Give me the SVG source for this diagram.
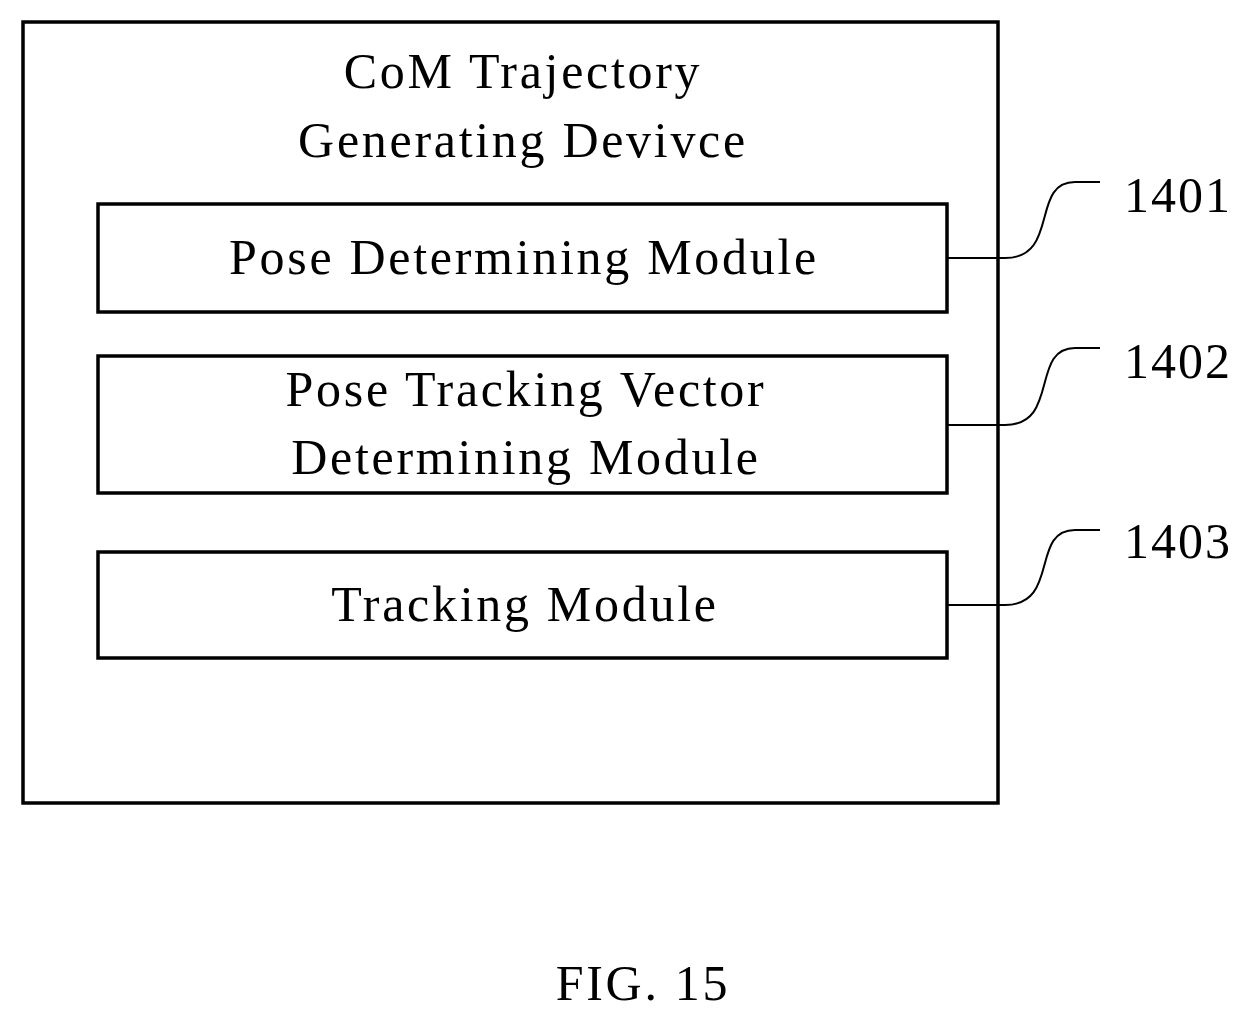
<svg xmlns="http://www.w3.org/2000/svg" width="1253" height="1023" viewBox="0 0 1253 1023">
<style>
.b{fill:none;stroke:#000;stroke-width:3.5}
.l{fill:none;stroke:#000;stroke-width:2}
text{font-family:"Liberation Serif",serif;font-size:50px;letter-spacing:2.7px;fill:#000;text-anchor:middle}
.n{text-anchor:start;letter-spacing:2px}
</style>
<rect width="1253" height="1023" fill="#fff"/>
<g id="device"><rect class="b" x="23" y="22" width="975" height="781"/>
<text x="523" y="88">CoM Trajectory</text><text x="523" y="157">Generating Devivce</text></g>
<g id="m1401"><rect class="b" x="98" y="204" width="849" height="108"/><text x="524" y="274">Pose Determining Module</text></g>
<g id="m1402"><rect class="b" x="98" y="356" width="849" height="137"/><text x="526" y="406">Pose Tracking Vector</text><text x="526" y="474">Determining Module</text></g>
<g id="m1403"><rect class="b" x="98" y="552" width="849" height="106"/><text x="525" y="621">Tracking Module</text></g>
<g id="connectors">
<path class="l" d="M947,258 H1005 C1060,258 1030,182 1075,182 H1100"/>
<path class="l" d="M947,425 H1005 C1060,425 1030,348 1075,348 H1100"/>
<path class="l" d="M947,605 H1005 C1060,605 1030,530 1075,530 H1100"/>
</g>
<g id="labels"><text class="n" x="1124" y="212">1401</text><text class="n" x="1124" y="378">1402</text><text class="n" x="1124" y="558">1403</text>
<text x="643" y="1000">FIG. 15</text></g>
</svg>
